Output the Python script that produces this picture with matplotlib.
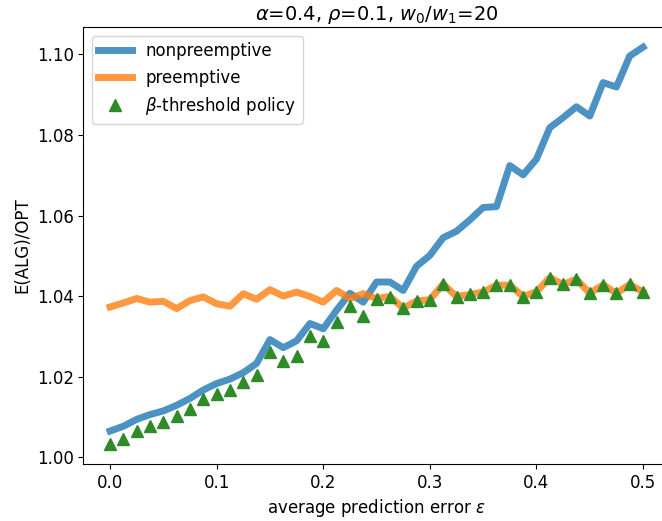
import numpy as np
import matplotlib
matplotlib.use("Agg")
import matplotlib.pyplot as plt

# average prediction error, 0 to 0.5 in steps of 0.0125
eps = np.linspace(0.0, 0.5, 41)

nonpreemptive = [
    1.0065, 1.0077, 1.0094, 1.0106, 1.0115, 1.0129, 1.0146, 1.0167, 1.0183, 1.0194,
    1.0210, 1.0233, 1.0292, 1.0272, 1.0289, 1.0332, 1.0319, 1.0365, 1.0407, 1.0385,
    1.0435, 1.0435, 1.0414, 1.0474, 1.0501, 1.0545, 1.0561, 1.0589, 1.0620, 1.0622,
    1.0724, 1.0701, 1.0740, 1.0818, 1.0843, 1.0870, 1.0847, 1.0930, 1.0919, 1.0996,
    1.1018,
]

preemptive = [
    1.0373, 1.0383, 1.0394, 1.0385, 1.0387, 1.0369, 1.0389, 1.0398, 1.0381, 1.0375,
    1.0406, 1.0392, 1.0416, 1.0400, 1.0410, 1.0399, 1.0385, 1.0414, 1.0394, 1.0406,
    1.0394, 1.0399, 1.0370, 1.0388, 1.0391, 1.0430, 1.0399, 1.0404, 1.0410, 1.0427,
    1.0427, 1.0399, 1.0411, 1.0446, 1.0429, 1.0442, 1.0407, 1.0428, 1.0407, 1.0429,
    1.0410,
]

beta_threshold = [
    1.0033, 1.0045, 1.0064, 1.0077, 1.0087, 1.0103, 1.0120, 1.0144, 1.0157, 1.0168,
    1.0186, 1.0205, 1.0261, 1.0239, 1.0252, 1.0302, 1.0289, 1.0335, 1.0375, 1.0350,
    1.0394, 1.0399, 1.0370, 1.0388, 1.0391, 1.0430, 1.0399, 1.0404, 1.0410, 1.0427,
    1.0427, 1.0399, 1.0411, 1.0446, 1.0429, 1.0442, 1.0407, 1.0428, 1.0407, 1.0429,
    1.0410,
]

W, H = 662, 521
fig = plt.figure(figsize=(W / 100, H / 100), dpi=100)
left, right, top, bottom = 83.4, 669.7, 27.3, 463.8
ax = fig.add_axes([left / W, 1 - bottom / H, (right - left) / W, (bottom - top) / H])

ax.plot(eps, nonpreemptive, color="tab:blue", alpha=0.8, lw=5, label="nonpreemptive")
ax.plot(eps, preemptive, color="tab:orange", alpha=0.8, lw=5, label="preemptive")
ax.plot(eps, beta_threshold, linestyle="none", marker="^", ms=8.3,
        color="#2e8b28", label=r"$\beta$-threshold policy", zorder=3)

ax.set_xticks([0.0, 0.1, 0.2, 0.3, 0.4, 0.5])
ax.set_yticks([1.00, 1.02, 1.04, 1.06, 1.08, 1.10])
ax.tick_params(labelsize=12)
ax.set_xlabel(r"average prediction error $\epsilon$", fontsize=12)
ax.set_ylabel("E(ALG)/OPT", fontsize=12)
ax.set_title(r"$\alpha$=0.4, $\rho$=0.1, $w_0/w_1$=20", fontsize=14, pad=5)
ax.legend(loc="upper left", fontsize=12)

fig.savefig("out.png", dpi=100)
